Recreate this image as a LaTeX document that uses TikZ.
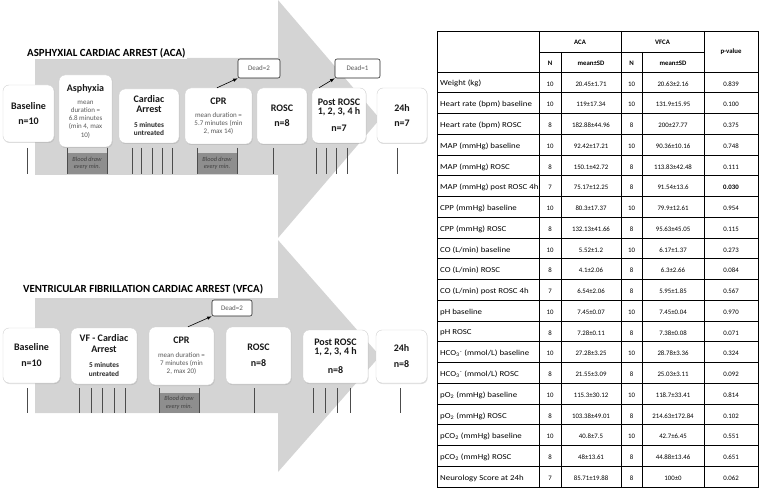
\documentclass[tikz,border=0pt]{standalone}
\usepackage{fontspec}
\usepackage{graphicx}
\setmainfont{Carlito}
\usetikzlibrary{shadows}

\definecolor{arrowgray}{HTML}{D4D4D4}
\definecolor{drawgray}{HTML}{8E8E8E}
\definecolor{notegray}{HTML}{5A5A5A}

\newcommand{\stg}[1]{{\fontsize{10}{8}\selectfont\bfseries\color{black!90}#1}}
\newcommand{\smb}[1]{{\fontsize{7.3}{8}\selectfont\bfseries\color{black!85}#1}}
\newcommand{\wide}[1]{\scalebox{1.16}[1]{#1}}

\tikzset{
  stage/.style={draw=black!18, fill=white, rounded corners=6pt, align=center,
    inner sep=0pt, text=notegray, font=\fontsize{7}{8}\selectfont,
    drop shadow={opacity=0.25, shadow xshift=0.6pt, shadow yshift=-1pt}},
  dead/.style={draw=black!85, fill=white, rounded corners=2pt, line width=0.6pt,
    inner sep=0pt, text=notegray, font=\fontsize{7}{8}\selectfont},
  blood/.style={fill=drawgray, inner sep=0pt, align=center, text=black!75,
    font=\fontsize{6.3}{7.5}\selectfont\itshape},
  tickline/.style={draw=black!70, line width=0.8pt},
  title/.style={fill=white, inner sep=1pt, anchor=west,
    font=\fontsize{10.9}{12}\selectfont\bfseries},
  lab/.style={anchor=west, inner sep=0pt, font=\fontsize{7.6}{9}\selectfont},
  val/.style={inner sep=0pt, font=\fontsize{6.8}{8}\selectfont},
  head/.style={inner sep=0pt, font=\fontsize{6.8}{8}\selectfont\bfseries},
}

\begin{document}
\begin{tikzpicture}[x=1pt, y=-1pt]
    \useasboundingbox (0,0) rectangle (760,489);

    % Flechas grises
    \fill[arrowgray] (35,58) -- (278,58) -- (278,0) -- (380,119) -- (278,238)
        -- (278,175) -- (35,175) -- cycle;
    \fill[arrowgray] (35,298) -- (278,298) -- (278,240) -- (380,356) -- (278,472)
        -- (278,413) -- (35,413) -- cycle;

    % Titulos
    \node[title] (aca) at (26,53) {ASPHYXIAL CARDIAC ARREST (ACA)};
    \node[title] (vfca) at (22,289) {VENTRICULAR FIBRILLATION CARDIAC ARREST (VFCA)};

    % ACA: etapas
    \node[stage, minimum width=51, minimum height=57] (base1) at (28.5,113.5)
        {\stg{Baseline}\\[7pt]\stg{n=10}};
    \node[stage, minimum width=53, minimum height=72] (asph) at (85.5,111)
        {\stg{Asphyxia}\\[5pt]mean\\duration =\\6.8 minutes\\(min 4, max\\[1pt]10)};
    \node[stage, minimum width=60, minimum height=54] (arrest1) at (149,116)
        {\stg{Cardiac}\\[2pt]\stg{Arrest}\\[7pt]\smb{5 minutes}\\\smb{untreated}};
    \node[stage, minimum width=67, minimum height=56] (cpr1) at (218.5,116)
        {\stg{CPR}\\[5pt]mean duration =\\5.7 minutes (min\\2, max 14)};
    \node[stage, minimum width=50, minimum height=56] (rosc1) at (282,116)
        {\stg{ROSC}\\[7pt]\stg{n=8}};
    \node[stage, minimum width=54, minimum height=55] (post1) at (339,115.5)
        {\stg{Post ROSC}\\[1pt]\stg{1, 2, 3, 4 h}\\[9pt]\stg{n=7}};
    \node[stage, minimum width=50, minimum height=55] (day1) at (402,115.5)
        {\stg{24h}\\[7pt]\stg{n=7}};

    \node[dead, minimum width=42, minimum height=19] (deadA) at (259,68.5) {Dead=2};
    \node[dead, minimum width=45, minimum height=19] (deadB) at (357.5,68.5) {Dead=1};
    \draw[-latex, line width=0.6pt] ([xshift=-1.5]cpr1.north) -- (deadA.south west);
    \draw[-latex, line width=0.6pt] ([xshift=-20]post1.north) -- (deadB.south west);

    % ACA: tomas de muestra
    \node[blood, minimum width=40, minimum height=21] (bd1) at (87,163.5) {Blood draw\\every min.};
    \node[blood, minimum width=40, minimum height=21] (bd2) at (217,163.5) {Blood draw\\every min.};
    \foreach \x in {27,67,107,132,141,152,162,172,197,237,273,316,326,336,347,397}
        \draw[tickline] (\x,148) -- (\x,174);

    % VFCA: etapas
    \node[stage, minimum width=57, minimum height=55] (base2) at (31.5,355.5)
        {\stg{Baseline}\\[8pt]\stg{n=10}};
    \node[stage, minimum width=66, minimum height=56] (arrest2) at (104,356)
        {\stg{VF - Cardiac}\\[3pt]\stg{Arrest}\\[7pt]\smb{5 minutes}\\[1pt]\smb{untreated}};
    \node[stage, minimum width=65, minimum height=58] (cpr2) at (181.5,356)
        {\stg{CPR}\\[6pt]mean duration =\\7 minutes (min\\2, max 20)};
    \node[stage, minimum width=65, minimum height=57] (rosc2) at (258.5,355.5)
        {\stg{ROSC}\\[8pt]\stg{n=8}};
    \node[stage, minimum width=65, minimum height=53] (post2) at (335.5,356.5)
        {\stg{Post ROSC}\\[1pt]\stg{1, 2, 3, 4 h}\\[10pt]\stg{n=8}};
    \node[stage, minimum width=51, minimum height=53] (day2) at (401.5,356.5)
        {\stg{24h}\\[8pt]\stg{n=8}};

    \node[dead, minimum width=40, minimum height=16] (deadC) at (232,308) {Dead=2};
    \draw[-latex, line width=0.6pt] ([xshift=6.5]cpr2.north) -- (deadC.south west);

    % VFCA: tomas de muestra
    \node[blood, minimum width=40, minimum height=20] (bd3) at (179,403) {Blood draw\\every min.};
    \foreach \x in {27,79,91,102,114,125,159,199,254,313,325,337,350,400}
        \draw[tickline] (\x,388) -- (\x,413);

    % Tabla
    \draw[line width=0.7pt] (437.5,31) rectangle (758,487);
    \foreach \x in {539,621,704}
        \draw[line width=0.7pt] (\x,31) -- (\x,487);
    \foreach \x in {561,642}
        \draw[line width=0.7pt] (\x,52) -- (\x,487);
    \draw[line width=0.7pt] (539,52) -- (704,52);
    \foreach \k in {0,...,19}
        \draw[line width=0.7pt] (437.5,72+20.75*\k) -- (758,72+20.75*\k);

    \node[head] (hA) at (580,42) {ACA};
    \node[head] (hV) at (662.5,42) {VFCA};
    \node[head] (hP) at (731,52) {p-value};
    \node[head] (hNa) at (550,63) {N};
    \node[head] (hMa) at (591,63) {mean±SD};
    \node[head] (hNv) at (631.5,63) {N};
    \node[head] (hMv) at (673,63) {mean±SD};

    \foreach [count=\i] \lab/\na/\ma/\nv/\mv/\p in {
        {Weight (kg)}/10/20.45±1.71/10/20.63±2.16/0.839,
        {Heart rate (bpm) baseline}/10/119±17.34/10/131.9±15.95/0.100,
        {Heart rate (bpm) ROSC}/8/182.88±44.96/8/200±27.77/0.375,
        {MAP (mmHg) baseline}/10/92.42±17.21/10/90.36±10.16/0.748,
        {MAP (mmHg) ROSC}/8/150.1±42.72/8/113.83±42.48/0.111,
        {MAP (mmHg) post ROSC 4h}/7/75.17±12.25/8/91.54±13.6/\textbf{0.030},
        {CPP (mmHg) baseline}/10/80.3±17.37/10/79.9±12.61/0.954,
        {CPP (mmHg) ROSC}/8/132.13±41.66/8/95.63±45.05/0.115,
        {CO (L/min) baseline}/10/5.52±1.2/10/6.17±1.37/0.273,
        {CO (L/min) ROSC}/8/4.1±2.06/8/6.3±2.66/0.084,
        {CO (L/min) post ROSC 4h}/7/6.54±2.06/8/5.95±1.85/0.567,
        {pH baseline}/10/7.45±0.07/10/7.45±0.04/0.970,
        {pH ROSC}/8/7.28±0.11/8/7.38±0.08/0.071,
        {HCO\textsubscript{3}\textsuperscript{-} (mmol/L) baseline}/10/27.28±3.25/10/28.78±3.36/0.324,
        {HCO\textsubscript{3}\textsuperscript{-} (mmol/L) ROSC}/8/21.55±3.09/8/25.03±3.11/0.092,
        {pO\textsubscript{2} (mmHg) baseline}/10/115.3±30.12/10/118.7±33.41/0.814,
        {pO\textsubscript{2} (mmHg) ROSC}/8/103.38±49.01/8/214.63±172.84/0.102,
        {pCO\textsubscript{2} (mmHg) baseline}/10/40.8±7.5/10/42.7±6.45/0.551,
        {pCO\textsubscript{2} (mmHg) ROSC}/8/48±13.61/8/44.88±13.46/0.651,
        {Neurology Score at 24h}/7/85.71±19.88/8/100±0/0.062} {
        \pgfmathsetmacro\ry{72+20.75*(\i-0.5)+1.5}
        \node[lab] (l\i) at (440,\ry) {\wide{\lab}};
        \node[val] (na\i) at (550,\ry) {\na};
        \node[val] (ma\i) at (591,\ry) {\ma};
        \node[val] (nv\i) at (631.5,\ry) {\nv};
        \node[val] (mv\i) at (673,\ry) {\mv};
        \node[val] (p\i) at (731,\ry) {\p};
    }
\end{tikzpicture}
\end{document}
